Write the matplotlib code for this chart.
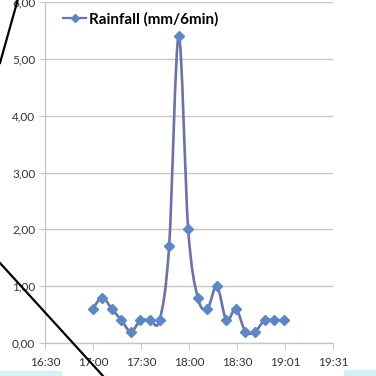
import matplotlib
matplotlib.use("Agg")
import matplotlib.pyplot as plt
from matplotlib.path import Path
from matplotlib.patches import PathPatch, Rectangle
from matplotlib.lines import Line2D
import numpy as np

# Rainfall every 6 minutes, 17:00 to 19:00 (minutes after 16:30)
minutes = [30, 36, 42, 48, 54, 60, 66, 72, 78, 84, 90,
           96, 102, 108, 114, 120, 126, 132, 138, 144, 150]
rainfall = [0.6, 0.8, 0.6, 0.4, 0.2, 0.4, 0.4, 0.4, 1.7, 5.4, 2.0,
            0.8, 0.6, 1.0, 0.4, 0.6, 0.2, 0.2, 0.4, 0.4, 0.4]
series_name = "Rainfall (mm/6min)"
x_tick_labels = ["16:30", "17:00", "17:30", "18:00", "18:30", "19:01", "19:31"]
y_ticks = [0, 1, 2, 3, 4, 5, 6]

LINE_C = "#6a72ae"
MARK_C = "#5b87c6"
GRID_C = "#c8c8c8"

fig = plt.figure(figsize=(3.76, 3.76), dpi=100)
ax = fig.add_axes([45 / 376, 1 - 343 / 376, (333 - 45) / 376, (343 - 2) / 376])

x_max = 181
ax.set_xlim(0, x_max)
ax.set_ylim(0, 6)

# smoothed connecting line (cubic Bezier through the data points)
xs = np.array(minutes, float)
ys = np.array(rainfall, float)
pts = np.column_stack([xs, ys])
ext = np.vstack([pts[0], pts, pts[-1]])
verts = [tuple(pts[0])]
codes = [Path.MOVETO]
for i in range(len(pts) - 1):
    p_prev, p0, p1, p_next = ext[i], ext[i + 1], ext[i + 2], ext[i + 3]
    c1 = p0 + (p1 - p_prev) / 6.0
    c2 = p1 - (p_next - p0) / 6.0
    verts += [tuple(c1), tuple(c2), tuple(p1)]
    codes += [Path.CURVE4] * 3
ax.add_patch(PathPatch(Path(verts, codes), facecolor="none", edgecolor=LINE_C,
                       lw=1.9, zorder=3, capstyle="round", joinstyle="round"))
ax.plot(minutes, rainfall, linestyle="none", marker="D", ms=5.5,
        mfc=MARK_C, mec=MARK_C, zorder=4)

# axes styling
ax.set_yticks(y_ticks)
ax.set_yticklabels([f"{v:.2f}".replace(".", ",") for v in y_ticks])
ax.set_xticks(np.linspace(0, x_max, len(x_tick_labels)))
ax.set_xticklabels(x_tick_labels)
ax.yaxis.grid(True, color=GRID_C, lw=1.0)
ax.set_axisbelow(True)
for s in ["top", "right"]:
    ax.spines[s].set_visible(False)
for s in ["left", "bottom"]:
    ax.spines[s].set_color(GRID_C)
    ax.spines[s].set_linewidth(1.0)
ax.tick_params(axis="both", direction="out", length=4, color=GRID_C,
               labelsize=8.5, labelcolor="#333333", pad=3)
for lab in ax.get_xticklabels() + ax.get_yticklabels():
    lab.set_family("Lato")
ax.tick_params(axis="x", pad=6)

# legend
handle = Line2D([], [], color=LINE_C, lw=1.6, marker="D", ms=4.5,
                mfc=MARK_C, mec=MARK_C)
ax.legend([handle], [series_name], loc="upper left",
          bbox_to_anchor=(0.015, 1.01), frameon=False, handlelength=1.5,
          handletextpad=0.2, prop={"family": "Lato", "weight": "bold", "size": 11})

# overlaid pointer strokes
fig.add_artist(Line2D([17.7 / 376, 0], [1, 1 - 63 / 376], color="black", lw=1.6,
                      transform=fig.transFigure))
fig.add_artist(Line2D([0, 103 / 376], [1 - 263 / 376, 0], color="black", lw=1.6,
                      transform=fig.transFigure))

# soft cyan strips along the bottom edge
fig.add_artist(Rectangle((0, 0), 62 / 376, 5 / 376, transform=fig.transFigure,
                         facecolor="#b8e8f3", edgecolor="none", alpha=0.6))
fig.add_artist(Rectangle((344 / 376, 0), 32 / 376, 6 / 376, transform=fig.transFigure,
                         facecolor="#b8e8f3", edgecolor="none", alpha=0.6))

fig.savefig("out.png", dpi=100)
